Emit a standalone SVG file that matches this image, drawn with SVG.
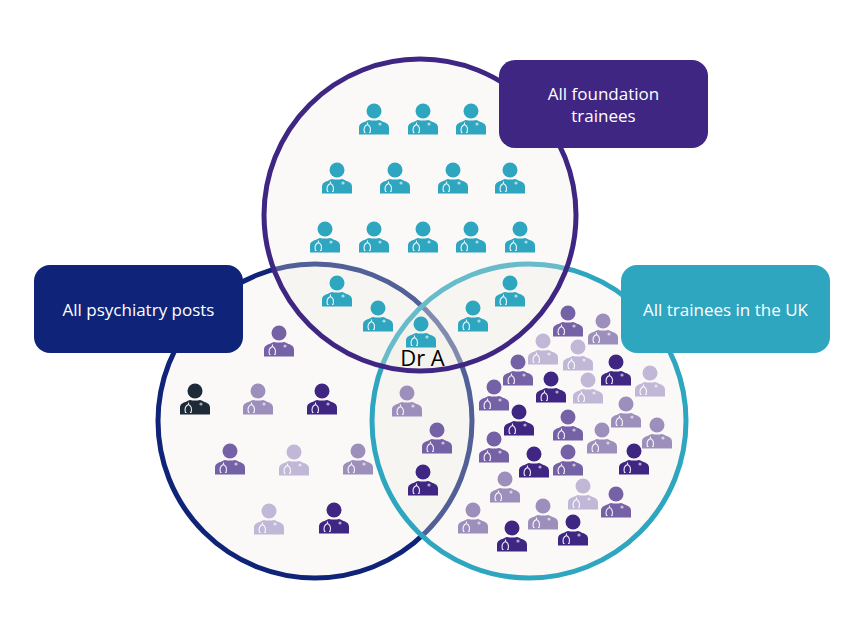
<svg xmlns="http://www.w3.org/2000/svg" xmlns:xlink="http://www.w3.org/1999/xlink" width="863" height="618" viewBox="0 0 863 618">
<style>
.c{fill:#eeebe6;fill-opacity:.3;stroke-width:5}
.l{font-family:"Open Sans","DejaVu Sans",sans-serif;font-size:17px;fill:#fff;text-anchor:middle}
.t{fill:#2fa6c0}.k{fill:#1d2a38}.d{fill:#3f2682}.m{fill:#7561a5}.n{fill:#9d8fbc}.o{fill:#c0b8d6}
.st{fill:none;stroke:#fff;stroke-width:1.1;stroke-opacity:.9}
</style>
<defs>
<g id="p">
<circle cx="0" cy="0" r="7.500"/>
<path d="M-15 23.500V16.500C-15 12.500-11 11.500-8.500 10.500C-7 9.800-6 9.300-5 9C-2 9.800 2 9.800 5 9C6 9.300 7 9.800 8.500 10.500C11 11.500 15 12.500 15 16.500V23.500Z"/>
<path class="st" d="M-6.500 11.500V13.500C-10 15-10.500 18-9.500 21.500H-8.500M-6.500 13.500C-3.500 15-3 18-4 21.500H-5"/>
<circle cx="6" cy="13" r="1.600" fill="#fff" fill-opacity=".6"/>
</g>
</defs>
<rect width="863" height="618" fill="#fff"/>
<g id="sets">
<circle id="set-psychiatry" class="c" cx="315" cy="421" r="157" stroke="#0f2478"/>
<circle id="set-uk" class="c" cx="529" cy="421" r="157" stroke="#2fa6c0"/>
<circle id="set-foundation" class="c" cx="420" cy="215" r="156" stroke="#3f2682"/>
</g>
<g id="connectors"/>
<g id="people-foundation" class="t">
<use href="#p" x="374" y="111"/><use href="#p" x="423" y="111"/><use href="#p" x="471" y="111"/>
<use href="#p" x="337" y="170"/><use href="#p" x="395" y="170"/><use href="#p" x="453" y="170"/><use href="#p" x="510" y="170"/>
<use href="#p" x="325" y="229"/><use href="#p" x="374" y="229"/><use href="#p" x="423" y="229"/><use href="#p" x="471" y="229"/><use href="#p" x="520" y="229"/>
<use href="#p" x="337" y="283"/><use href="#p" x="378" y="308"/><use href="#p" x="510" y="283"/><use href="#p" x="473" y="308"/><use href="#p" x="421" y="324"/>
</g>
<g id="people-other">
<use class="m" href="#p" x="279" y="333"/><use class="k" href="#p" x="195" y="391"/><use class="n" href="#p" x="258" y="391"/><use class="d" href="#p" x="322" y="391"/>
<use class="m" href="#p" x="230" y="451"/><use class="o" href="#p" x="294" y="452"/><use class="n" href="#p" x="358" y="451"/><use class="o" href="#p" x="269" y="511"/><use class="d" href="#p" x="334" y="510"/>
<use class="n" href="#p" x="407" y="393"/><use class="m" href="#p" x="437" y="430"/><use class="d" href="#p" x="423" y="472"/>
<use class="m" href="#p" x="568" y="313"/><use class="n" href="#p" x="603" y="321"/><use class="o" href="#p" x="543" y="341"/><use class="o" href="#p" x="578" y="347"/>
<use class="m" href="#p" x="518" y="362"/><use class="d" href="#p" x="616" y="362"/><use class="d" href="#p" x="551" y="379"/><use class="o" href="#p" x="588" y="380"/><use class="o" href="#p" x="650" y="373"/>
<use class="m" href="#p" x="494" y="387"/><use class="d" href="#p" x="519" y="412"/><use class="m" href="#p" x="568" y="417"/><use class="n" href="#p" x="626" y="404"/><use class="n" href="#p" x="602" y="430"/><use class="n" href="#p" x="657" y="425"/>
<use class="m" href="#p" x="494" y="439"/><use class="d" href="#p" x="534" y="454"/><use class="m" href="#p" x="568" y="452"/><use class="d" href="#p" x="634" y="451"/>
<use class="n" href="#p" x="505" y="479"/><use class="o" href="#p" x="583" y="486"/><use class="m" href="#p" x="616" y="494"/><use class="n" href="#p" x="473" y="510"/><use class="d" href="#p" x="512" y="528"/><use class="n" href="#p" x="543" y="506"/><use class="d" href="#p" x="573" y="522"/>
</g>
<g id="label-foundation"><rect x="499" y="60" width="209" height="88" rx="16" fill="#3f2682"/><text class="l" x="603.500" y="99.500">All foundation</text><text class="l" x="603.500" y="121.500">trainees</text></g>
<g id="label-psychiatry"><rect x="34" y="265" width="209" height="88" rx="16" fill="#0f2478"/><text class="l" x="138.500" y="315.500">All psychiatry posts</text></g>
<g id="label-uk"><rect x="621" y="265" width="209" height="88" rx="16" fill="#2fa6c0"/><text class="l" x="725.500" y="315.500">All trainees in the UK</text></g>
<g id="dr-a"><text x="422.500" y="366" font-family="Open Sans,DejaVu Sans,sans-serif" font-size="22" text-anchor="middle" fill="#000">Dr A</text></g>
</svg>
